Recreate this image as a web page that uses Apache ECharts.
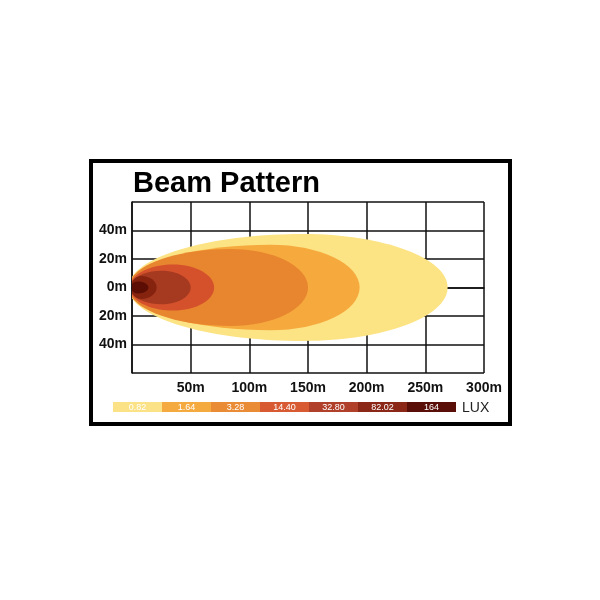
<!DOCTYPE html>
<html>
<head>
<meta charset="utf-8">
<script src="https://cdn.jsdelivr.net/npm/echarts@6/dist/echarts.min.js"></script>
<style>html,body{margin:0;padding:0;background:#fff}#c{width:600px;height:600px}</style>
</head>
<body>
<div id="c"></div>
<script>
// Beam zones (metres): start, widest point, far end, half width
var zoneLux   = ['0.82', '1.64', '3.28', '14.40', '32.80', '82.02', '164'];
var zoneStart = [-3, -3, -3, -2, -2, -1, -1];
var zonePeak  = [146, 118, 84, 35, 25, 8, 5];
var zoneEnd   = [269, 194, 150, 70, 50, 21, 14];
var zoneHalf  = [37.5, 30, 27, 16.2, 11.8, 8, 4.2];
var zoneColors = ['#FCE384', '#F6A93D', '#E8852F', '#D4512C', '#A63A20', '#85230F', '#5C0E05'];
var legendColors = ['#FBE286', '#F5AA3F', '#EA8B35', '#D75A32', '#B1402A', '#8A2717', '#5A0E08'];
var xTicks = [0, 50, 100, 150, 200, 250, 300];
var yTicks = [-60, -40, -20, 0, 20, 40, 60];

var data = zoneLux.map(function (l, i) {
  return { name: l, value: [zoneStart[i], zonePeak[i], zoneEnd[i], zoneHalf[i]] };
});

var chart = echarts.init(document.getElementById('c'));

var graphics = [
  { type: 'rect', shape: { x: 91, y: 161, width: 419, height: 263 },
    style: { fill: null, stroke: '#000', lineWidth: 4 }, z: 100 },
  { type: 'text', left: 133, top: 169,
    style: { text: 'Beam Pattern', font: 'bold 29px "Liberation Sans", Arial, sans-serif', fill: '#000' } }
];
var segX = 113, segW = 49, segY = 402, segH = 10;
legendColors.forEach(function (c, i) {
  graphics.push({ type: 'rect', shape: { x: segX + i * segW, y: segY, width: segW, height: segH },
    style: { fill: c }, z: 10 });
  graphics.push({ type: 'text', x: segX + i * segW + segW / 2, y: segY + segH / 2 + 0.5, z: 11,
    style: { text: zoneLux[i], fill: '#fff', font: '9px "Liberation Sans", Arial, sans-serif',
             align: 'center', verticalAlign: 'middle' } });
});
graphics.push({ type: 'text', x: 462, y: segY + segH / 2 + 1,
  style: { text: 'LUX', fill: '#222', font: '14px "Liberation Sans", Arial, sans-serif',
           align: 'left', verticalAlign: 'middle' } });

var labelFont = { color: '#111', fontSize: 14, fontWeight: 'bold', fontFamily: '"Liberation Sans", Arial, sans-serif' };

chart.setOption({
  animation: false,
  backgroundColor: '#fff',
  graphic: graphics,
  grid: { left: 132, right: 116, top: 202, bottom: 227 },
  xAxis: {
    type: 'value', min: xTicks[0], max: xTicks[xTicks.length - 1], interval: 50,
    axisLine: { show: true, lineStyle: { color: '#111', width: 1.5 } },
    axisTick: { show: false },
    splitLine: { show: true, lineStyle: { color: '#111', width: 1.5 } },
    axisLabel: Object.assign({ margin: 8,
      formatter: function (v) { return v === 0 ? '' : v + 'm'; } }, labelFont)
  },
  yAxis: {
    type: 'value', min: yTicks[0], max: yTicks[yTicks.length - 1], interval: 20,
    axisLine: { show: true, lineStyle: { color: '#111', width: 1.5 } },
    axisTick: { show: false },
    splitLine: { show: true, lineStyle: { color: '#111', width: 1.5 } },
    axisLabel: Object.assign({ margin: 5,
      formatter: function (v) { return Math.abs(v) === 60 ? '' : Math.abs(v) + 'm'; } }, labelFont)
  },
  series: [{
    type: 'custom',
    clip: true,
    data: data,
    renderItem: function (params, api) {
      var s = api.value(0), pk = api.value(1), e = api.value(2), h = api.value(3);
      var p0 = api.coord([s, 0]);
      var pp = api.coord([pk, h]);
      var pe = api.coord([e, 0]);
      var cx = pp[0], cy = p0[1], ry = p0[1] - pp[1];
      var rl = cx - p0[0], rr = pe[0] - cx, k = 0.5523;
      var d = 'M' + (cx - rl) + ',' + cy +
        'C' + (cx - rl) + ',' + (cy - k * ry) + ',' + (cx - k * rl) + ',' + (cy - ry) + ',' + cx + ',' + (cy - ry) +
        'C' + (cx + k * rr) + ',' + (cy - ry) + ',' + (cx + rr) + ',' + (cy - k * ry) + ',' + (cx + rr) + ',' + cy +
        'C' + (cx + rr) + ',' + (cy + k * ry) + ',' + (cx + k * rr) + ',' + (cy + ry) + ',' + cx + ',' + (cy + ry) +
        'C' + (cx - k * rl) + ',' + (cy + ry) + ',' + (cx - rl) + ',' + (cy + k * ry) + ',' + (cx - rl) + ',' + cy + 'Z';
      return {
        type: 'path',
        shape: { pathData: d },
        style: { fill: zoneColors[params.dataIndex], stroke: null }
      };
    }
  }]
});
</script>
</body>
</html>
